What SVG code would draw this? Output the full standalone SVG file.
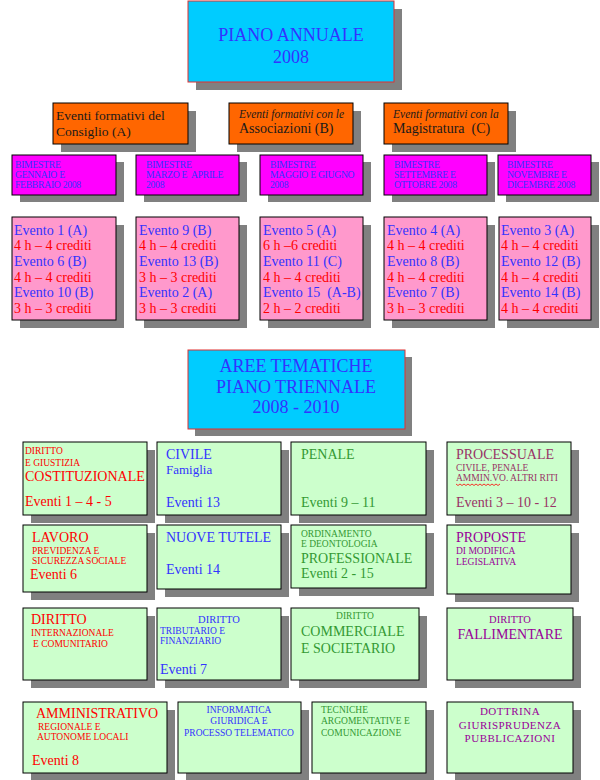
<svg xmlns="http://www.w3.org/2000/svg" width="600" height="780" viewBox="0 0 600 780">
<style>
text{font-family:"Liberation Serif","Times New Roman",serif}
.sh{fill:#808080}
.k{stroke:#000;stroke-width:1}
.cy{fill:#00ccff;stroke:#e03030;stroke-width:1}
.or{fill:#ff6600}
.mg{fill:#ff00ff}
.pk{fill:#ff99cc}
.gr{fill:#ccffcc}
.b{fill:#3333ff}
.r{fill:#ff0000}
.g{fill:#339933}
.p{fill:#990099}
.m{fill:#993366}
.d{fill:#1a1a1a}
.s{font-size:9.5px}
.n{font-size:14px}
.t{font-size:18px}
.bm{font-size:9.7px;fill:#3333ff;letter-spacing:-0.3px}
.c{text-anchor:middle}
</style>
<rect width="600" height="780" fill="#ffffff"/>

<g id="piano-annuale">
<rect class="sh" x="196" y="9" width="206" height="81"/>
<rect class="cy" x="188" y="1" width="206" height="81"/>
<text class="t b c" x="291" y="41">PIANO ANNUALE</text>
<text class="t b c" x="291" y="63">2008</text>
</g>

<g id="consiglio">
<rect class="sh" x="61" y="111" width="135" height="41"/>
<rect class="or k" x="53" y="103" width="135" height="41"/>
<text class="d" font-size="13.5" x="56" y="120">Eventi formativi del</text>
<text class="d" font-size="13.5" x="56" y="136">Consiglio (A)</text>
</g>
<g id="associazioni">
<rect class="sh" x="237" y="111" width="124" height="41"/>
<rect class="or k" x="229" y="103" width="124" height="41"/>
<text class="d" font-size="11.5" font-style="italic" x="239" y="118">Eventi formativi con le</text>
<text class="d" font-size="14" x="239" y="133">Associazioni (B)</text>
</g>
<g id="magistratura">
<rect class="sh" x="392" y="111" width="124" height="41"/>
<rect class="or k" x="384" y="103" width="124" height="41"/>
<text class="d" font-size="11.5" font-style="italic" x="393" y="118">Eventi formativi con la</text>
<text class="d" font-size="14" x="393" y="133">Magistratura&#160; (C)</text>
</g>

<g id="bim1">
<rect class="sh" x="20" y="162" width="104" height="40"/>
<rect class="mg k" x="12" y="155" width="104" height="40"/>
<text class="bm" x="15" y="168">BIMESTRE</text>
<text class="bm" x="15" y="178">GENNAIO E</text>
<text class="bm" x="15" y="188">FEBBRAIO 2008</text>
</g>
<g id="bim2">
<rect class="sh" x="144" y="162" width="103" height="40"/>
<rect class="mg k" x="136" y="155" width="103" height="40"/>
<text class="bm" x="146" y="168">BIMESTRE</text>
<text class="bm" x="146" y="178">MARZO E&#160; APRILE</text>
<text class="bm" x="146" y="188">2008</text>
</g>
<g id="bim3">
<rect class="sh" x="268" y="162" width="103" height="40"/>
<rect class="mg k" x="260" y="155" width="103" height="40"/>
<text class="bm" x="270" y="168">BIMESTRE</text>
<text class="bm" x="270" y="178">MAGGIO E GIUGNO</text>
<text class="bm" x="270" y="188">2008</text>
</g>
<g id="bim4">
<rect class="sh" x="392" y="162" width="103" height="40"/>
<rect class="mg k" x="384" y="155" width="103" height="40"/>
<text class="bm" x="394" y="168">BIMESTRE</text>
<text class="bm" x="394" y="178">SETTEMBRE E</text>
<text class="bm" x="394" y="188">OTTOBRE 2008</text>
</g>
<g id="bim5">
<rect class="sh" x="506" y="162" width="93" height="40"/>
<rect class="mg k" x="498" y="155" width="93" height="40"/>
<text class="bm" x="507" y="168">BIMESTRE</text>
<text class="bm" x="507" y="178">NOVEMBRE E</text>
<text class="bm" x="507" y="188">DICEMBRE 2008</text>
</g>

<g id="ev1">
<rect class="sh" x="20" y="225" width="104" height="103"/>
<rect class="pk k" x="12" y="217" width="104" height="103"/>
<text class="n b" x="14" y="235">Evento 1 (A)</text>
<text class="n r" x="14" y="250">4 h – 4 crediti</text>
<text class="n b" x="14" y="266">Evento 6 (B)</text>
<text class="n r" x="14" y="282">4 h – 4 crediti</text>
<text class="n b" x="14" y="297">Evento 10 (B)</text>
<text class="n r" x="14" y="313">3 h – 3 crediti</text>
</g>
<g id="ev2">
<rect class="sh" x="144" y="225" width="103" height="103"/>
<rect class="pk k" x="136" y="217" width="103" height="103"/>
<text class="n b" x="139" y="235">Evento 9 (B)</text>
<text class="n r" x="139" y="250">4 h – 4 crediti</text>
<text class="n b" x="139" y="266">Evento 13 (B)</text>
<text class="n r" x="139" y="282">3 h – 3 crediti</text>
<text class="n b" x="139" y="297">Evento 2 (A)</text>
<text class="n r" x="139" y="313">3 h – 3 crediti</text>
</g>
<g id="ev3">
<rect class="sh" x="268" y="225" width="103" height="103"/>
<rect class="pk k" x="260" y="217" width="103" height="103"/>
<text class="n b" x="263" y="235">Evento 5 (A)</text>
<text class="n r" x="263" y="250">6 h –6 crediti</text>
<text class="n b" x="263" y="266">Evento 11 (C)</text>
<text class="n r" x="263" y="282">4 h – 4 crediti</text>
<text class="n b" x="263" y="297">Evento 15&#160; (A-B)</text>
<text class="n r" x="263" y="313">2 h – 2 crediti</text>
</g>
<g id="ev4">
<rect class="sh" x="392" y="225" width="103" height="103"/>
<rect class="pk k" x="384" y="217" width="103" height="103"/>
<text class="n b" x="387" y="235">Evento 4 (A)</text>
<text class="n r" x="387" y="250">4 h – 4 crediti</text>
<text class="n b" x="387" y="266">Evento 8 (B)</text>
<text class="n r" x="387" y="282">4 h – 4 crediti</text>
<text class="n b" x="387" y="297">Evento 7 (B)</text>
<text class="n r" x="387" y="313">3 h – 3 crediti</text>
</g>
<g id="ev5">
<rect class="sh" x="507" y="225" width="92" height="103"/>
<rect class="pk k" x="499" y="217" width="92" height="103"/>
<text class="n b" x="501" y="235">Evento 3 (A)</text>
<text class="n r" x="501" y="250">4 h – 4 crediti</text>
<text class="n b" x="501" y="266">Evento 12 (B)</text>
<text class="n r" x="501" y="282">4 h – 4 crediti</text>
<text class="n b" x="501" y="297">Evento 14 (B)</text>
<text class="n r" x="501" y="313">4 h – 4 crediti</text>
</g>

<g id="aree-tematiche">
<rect class="sh" x="195" y="357" width="217" height="79"/>
<rect class="cy" x="188" y="350" width="217" height="79"/>
<text class="t b c" x="296" y="372">AREE TEMATICHE</text>
<text class="t b c" x="296" y="393">PIANO TRIENNALE</text>
<text class="t b c" x="296" y="413">2008 - 2010</text>
</g>

<g id="costituzionale">
<rect class="sh" x="31" y="450" width="124" height="73"/>
<rect class="gr k" x="23" y="442" width="124" height="73"/>
<text class="s r" x="25" y="454">DIRITTO</text>
<text class="s r" x="25" y="466">E GIUSTIZIA</text>
<text class="n r" x="25" y="481">COSTITUZIONALE</text>
<text class="n r" x="25" y="506">Eventi 1 – 4 - 5</text>
</g>
<g id="civile">
<rect class="sh" x="165" y="450" width="124" height="73"/>
<rect class="gr k" x="157" y="442" width="124" height="73"/>
<text class="n b" x="166" y="459">CIVILE</text>
<text class="b" font-size="13" x="166" y="474">Famiglia</text>
<text class="n b" x="166" y="507">Eventi 13</text>
</g>
<g id="penale">
<rect class="sh" x="299" y="450" width="135" height="73"/>
<rect class="gr k" x="291" y="442" width="135" height="73"/>
<text class="n g" x="301" y="459">PENALE</text>
<text class="n g" x="301" y="507">Eventi 9 – 11</text>
</g>
<g id="processuale">
<rect class="sh" x="455" y="450" width="124" height="73"/>
<rect class="gr k" x="447" y="442" width="124" height="73"/>
<text class="n m" x="456" y="459">PROCESSUALE</text>
<text class="s m" x="456" y="471">CIVILE, PENALE</text>
<text class="s m" x="456" y="481">AMMIN.VO. ALTRI RITI</text>
<path d="M456 484 l2 1.5 l2 -1.5 l2 1.5 l2 -1.5 l2 1.5 l2 -1.5 l2 1.5 l2 -1.5 l2 1.5 l2 -1.5 l2 1.5 l2 -1.5 l2 1.5 l2 -1.5 l2 1.5 l2 -1.5 l2 1.5 l2 -1.5 l2 1.5 l2 -1.5 l2 1.5 l2 -1.5" fill="none" stroke="#ff0000" stroke-width="0.8"/>
<text class="n m" x="456" y="507">Eventi 3 – 10 - 12</text>
</g>

<g id="lavoro">
<rect class="sh" x="31" y="533" width="124" height="67"/>
<rect class="gr k" x="23" y="525" width="124" height="67"/>
<text class="n r" x="32" y="542">LAVORO</text>
<text class="s r" x="32" y="554">PREVIDENZA E</text>
<text class="s r" x="32" y="564">SICUREZZA SOCIALE</text>
<text class="n r" x="30" y="579">Eventi 6</text>
</g>
<g id="nuove-tutele">
<rect class="sh" x="165" y="533" width="124" height="64"/>
<rect class="gr k" x="157" y="525" width="124" height="64"/>
<text class="n b" x="166" y="542">NUOVE TUTELE</text>
<text class="n b" x="166" y="574">Eventi 14</text>
</g>
<g id="ordinamento">
<rect class="sh" x="299" y="533" width="135" height="63"/>
<rect class="gr k" x="291" y="525" width="135" height="63"/>
<text class="s g" x="301" y="537">ORDINAMENTO</text>
<text class="s g" x="301" y="547">E DEONTOLOGIA</text>
<text class="n g" x="301" y="563">PROFESSIONALE</text>
<text class="n g" x="301" y="578">Eventi 2 - 15</text>
</g>
<g id="proposte">
<rect class="sh" x="455" y="533" width="124" height="69"/>
<rect class="gr k" x="447" y="525" width="124" height="69"/>
<text class="n p" x="456" y="542">PROPOSTE</text>
<text class="s p" x="456" y="554">DI MODIFICA</text>
<text class="s p" x="456" y="565">LEGISLATIVA</text>
</g>

<g id="internazionale">
<rect class="sh" x="31" y="616" width="124" height="72"/>
<rect class="gr k" x="23" y="608" width="124" height="72"/>
<text class="n r" x="31" y="624">DIRITTO</text>
<text class="s r" x="31" y="636">INTERNAZIONALE</text>
<text class="s r" x="33" y="647">E COMUNITARIO</text>
</g>
<g id="tributario">
<rect class="sh" x="165" y="616" width="124" height="72"/>
<rect class="gr k" x="157" y="608" width="124" height="72"/>
<text class="b c" font-size="10.5" x="219" y="623">DIRITTO</text>
<text class="s b" x="160" y="634">TRIBUTARIO E</text>
<text class="s b" x="160" y="644">FINANZIARIO</text>
<text class="n b" x="160" y="674">Eventi 7</text>
</g>
<g id="commerciale">
<rect class="sh" x="299" y="616" width="128" height="72"/>
<rect class="gr k" x="291" y="608" width="128" height="72"/>
<text class="s g c" x="355" y="619">DIRITTO</text>
<text class="n g" x="301" y="636">COMMERCIALE</text>
<text class="n g" x="301" y="653">E SOCIETARIO</text>
</g>
<g id="fallimentare">
<rect class="sh" x="455" y="616" width="126" height="72"/>
<rect class="gr k" x="447" y="608" width="126" height="72"/>
<text class="p c" font-size="10.5" x="510" y="623">DIRITTO</text>
<text class="n p c" x="510" y="639">FALLIMENTARE</text>
</g>

<g id="amministrativo">
<rect class="sh" x="31" y="710" width="144" height="71"/>
<rect class="gr k" x="23" y="702" width="144" height="71"/>
<text class="n r" x="36" y="718">AMMINISTRATIVO</text>
<text class="s r" x="38" y="730">REGIONALE E</text>
<text class="s r" x="37" y="740">AUTONOME LOCALI</text>
<text class="n r" x="32" y="765">Eventi 8</text>
</g>
<g id="informatica">
<rect class="sh" x="186" y="710" width="123" height="71"/>
<rect class="gr k" x="178" y="702" width="123" height="71"/>
<text class="s b c" x="239" y="713">INFORMATICA</text>
<text class="s b c" x="239" y="724">GIURIDICA E</text>
<text class="s b c" x="239" y="736">PROCESSO TELEMATICO</text>
</g>
<g id="tecniche">
<rect class="sh" x="320" y="710" width="114" height="71"/>
<rect class="gr k" x="312" y="702" width="114" height="71"/>
<text class="s g" x="321" y="713">TECNICHE</text>
<text class="s g" x="321" y="724">ARGOMENTATIVE E</text>
<text class="s g" x="321" y="736">COMUNICAZIONE</text>
</g>
<g id="dottrina">
<rect class="sh" x="455" y="710" width="126" height="71"/>
<rect class="gr k" x="447" y="702" width="126" height="71"/>
<text class="p c" font-size="11" letter-spacing="0.5" x="510" y="715">DOTTRINA</text>
<text class="p c" font-size="11" letter-spacing="0.5" x="510" y="729">GIURISPRUDENZA</text>
<text class="p c" font-size="11" letter-spacing="0.5" x="510" y="742">PUBBLICAZIONI</text>
</g>

<g id="connectors"></g>
</svg>
